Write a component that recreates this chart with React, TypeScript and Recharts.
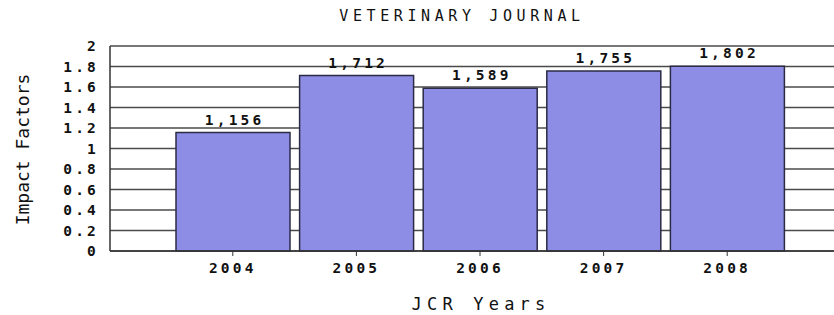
import React from 'react';
import { BarChart, Bar, XAxis, YAxis, CartesianGrid, LabelList, Label } from 'recharts';

const years = ['2004', '2005', '2006', '2007', '2008'];
const impactFactors = [1.156, 1.712, 1.589, 1.755, 1.802];
const yTicks = [0, 0.2, 0.4, 0.6, 0.8, 1, 1.2, 1.4, 1.6, 1.8, 2];

const data = years.map((year, i) => ({ year, value: impactFactors[i] }));

const MONO = '"DejaVu Sans Mono", "Liberation Mono", monospace';
const INK = '#111';

const tickStyle = {
    fill: INK,
    fontSize: 14.5,
    fontWeight: 'bold',
    fontFamily: MONO,
    letterSpacing: 3.2,
};

export default function App() {
    return (
        <div style={{ position: 'absolute', left: 0, top: 0, width: 834, height: 315, background: '#fff' }}>
            <div
                style={{
                    position: 'absolute',
                    left: 100,
                    top: 9,
                    width: 724,
                    textAlign: 'center',
                    fontFamily: MONO,
                    fontSize: 15,
                    lineHeight: '15px',
                    letterSpacing: 4.6,
                    color: INK,
                    whiteSpace: 'pre',
                }}
            >
                VETERINARY JOURNAL
            </div>
            <BarChart
                width={834}
                height={315}
                data={data}
                margin={{ top: 46, right: 0, bottom: 0, left: 0 }}
                barSize={114}
            >
                <CartesianGrid vertical={false} stroke="#4a4a4a" strokeWidth={1.5} />
                <XAxis
                    dataKey="year"
                    height={64}
                    padding={{ left: 61, right: 45 }}
                    axisLine={{ stroke: '#333', strokeWidth: 1.5 }}
                    tickLine={{ stroke: '#333' }}
                    tickSize={5}
                    tickMargin={7}
                    tick={tickStyle}
                >
                    <Label
                        content={({ viewBox }: any) => (
                            <text
                                x={viewBox.x + viewBox.width / 2 + 9}
                                y={310}
                                textAnchor="middle"
                                fontFamily={MONO}
                                fontSize={17}
                                letterSpacing={5.2}
                                fill={INK}
                            >
                                JCR Years
                            </text>
                        )}
                    />
                </XAxis>
                <YAxis
                    width={110}
                    domain={[0, 2]}
                    ticks={yTicks}
                    interval={0}
                    axisLine={{ stroke: '#333', strokeWidth: 1.5 }}
                    tickLine={false}
                    tickSize={6}
                    tickMargin={5}
                    tick={tickStyle}
                    tickFormatter={(v: number) => String(Number(v.toFixed(1)))}
                >
                    <Label
                        content={({ viewBox }: any) => {
                            const cy = viewBox.y + viewBox.height / 2 + 1;
                            return (
                                <text
                                    x={29}
                                    y={cy}
                                    transform={`rotate(-90, 29, ${cy})`}
                                    textAnchor="middle"
                                    fontFamily={MONO}
                                    fontSize={18}
                                    fill={INK}
                                >
                                    Impact Factors
                                </text>
                            );
                        }}
                    />
                </YAxis>
                <Bar
                    dataKey="value"
                    fill="#8d8de6"
                    stroke="#2b2b45"
                    strokeWidth={1.5}
                    isAnimationActive={false}
                >
                    <LabelList
                        dataKey="value"
                        position="top"
                        offset={8}
                        dx={1.6}
                        fill={INK}
                        fontSize={14.5}
                        fontWeight="bold"
                        fontFamily={MONO}
                        letterSpacing={3.2}
                        formatter={(v: any) => Number(v).toFixed(3).replace('.', ',')}
                    />
                </Bar>
            </BarChart>
        </div>
    );
}
